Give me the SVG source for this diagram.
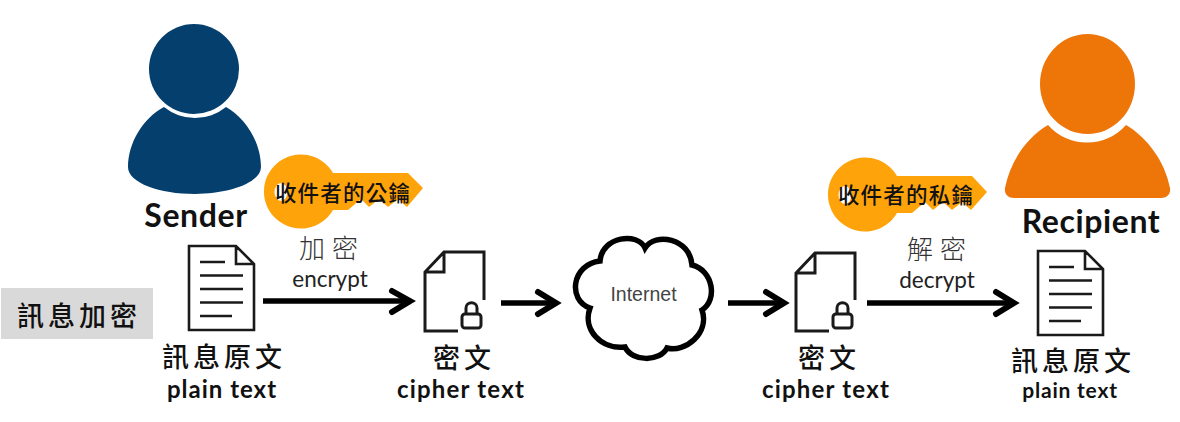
<svg xmlns="http://www.w3.org/2000/svg" width="1180" height="422" viewBox="0 0 1180 422">
<style>
text{font-family:"Lato","Noto Sans CJK TC",sans-serif;fill:#111;text-anchor:middle}
.zh{font-family:"Noto Sans CJK TC","Noto Sans CJK SC",sans-serif;font-size:27px;font-weight:500;letter-spacing:4px}
.zhl{font-family:"Noto Sans CJK TC",sans-serif;font-size:26px;font-weight:300;letter-spacing:7px;fill:#333}
.k{font-family:"Noto Sans CJK TC",sans-serif;font-size:21.5px;font-weight:500;letter-spacing:1.2px;fill:#111}
.en{font-size:22.500px;fill:#222}
.b{font-weight:700}
.doc{fill:none;stroke:#1a1a1a;stroke-width:2.6}
.ci{fill:none;stroke:#1a1a1a;stroke-width:3}
.ar{fill:none;stroke:#000;stroke-width:5.5}
.hd{fill:none;stroke:#000;stroke-width:6;stroke-linecap:round;stroke-linejoin:miter}
</style>
<rect width="1180" height="422" fill="#fff"/>
<g id="label-encrypt-message"><rect x="1" y="288" width="152" height="51" fill="#d9d9d9"/><text class="zh" x="79" y="326">訊息加密</text></g>
<g id="sender"><circle cx="194" cy="69" r="45" fill="#053f6d"/><path d="M164 107A49 49 0 0 0 226 107C246 118 261 143 261 167C261 183 228 194 195 194C160 194 128 183 128 167C128 143 143 118 164 107Z" fill="#053f6d"/><text class="b" x="196" y="227" font-size="32" letter-spacing=".6">Sender</text></g>
<g id="recipient"><ellipse cx="1087.500" cy="84" rx="47.500" ry="50" fill="#ee7609"/><path d="M1048 125A52 52 0 0 0 1126 125C1148 138 1165 162 1170 188C1171 194 1167 198 1161 198H1014C1008 198 1004 194 1005 188C1010 162 1026 138 1048 125Z" fill="#ee7609"/><text class="b" x="1091" y="233" font-size="32" letter-spacing=".6">Recipient</text></g>
<g id="public-key"><path d="M333 173H408L423 188L407 207L398 199L388 207L379 199L369 207L361 199L348 210H333A37 37 0 1 1 333 173Z" fill="#ffa30b"/><ellipse cx="281" cy="192" rx="6.500" ry="9" fill="#fff"/><text class="k" x="343" y="201">收件者的公鑰</text></g>
<g id="private-key"><path d="M897 176H972L987 192L971 210L962 202L952 210L943 202L933 210L925 202L912 213H897A37 37 0 1 1 897 176Z" fill="#ffa30b"/><ellipse cx="845" cy="195" rx="6.500" ry="9" fill="#fff"/><text class="k" x="906" y="203">收件者的私鑰</text></g>
<g id="plain-doc-left"><path class="doc" d="M189 246H236L254 264V330H189ZM236 246V264H254M200 262H225M200 275.500H243M200 289H243M200 302.500H243M200 316H232"/><text class="zh" x="224" y="367">訊息原文</text><text class="b" x="222" y="398" font-size="24" letter-spacing="1">plain text</text></g>
<g id="cipher-doc-left"><path class="ci" d="M484 300V252H444L425 272V331H458M444 252V272H425"/><rect x="462" y="314" width="19" height="14" rx="3" class="ci"/><path class="ci" d="M466 314V308C466 301 477 301 477 308V314"/><text class="zh" x="464" y="368">密文</text><text class="b" x="461" y="398" font-size="24" letter-spacing="1.200">cipher text</text></g>
<g id="internet"><path d="M600 261C602 236 638 232 645 248C655 232 690 238 692 265C713 270 718 300 702 310C710 333 685 353 667 348C660 362 632 362 625 347C602 350 582 330 590 308C567 300 572 264 600 261Z" fill="#fff" stroke="#000" stroke-width="5.500"/><text x="643.500" y="301" font-size="19.500" style="font-family:'Liberation Sans',sans-serif;fill:#444">Internet</text></g>
<g id="cipher-doc-right"><path class="ci" d="M855 300V253H815L796 273V331H829M815 253V273H796"/><rect x="833" y="314" width="19" height="14" rx="3" class="ci"/><path class="ci" d="M837 314V308C837 301 848 301 848 308V314"/><text class="zh" x="829" y="368">密文</text><text class="b" x="826" y="398" font-size="24" letter-spacing="1.200">cipher text</text></g>
<g id="plain-doc-right"><path class="doc" d="M1038 251H1085L1103 269V335H1038ZM1085 251V269H1103M1049 267H1074M1049 280.500H1092M1049 294H1092M1049 307.500H1092M1049 321H1081"/><text class="zh" x="1073" y="371">訊息原文</text><text class="b" x="1070" y="398" font-size="21" letter-spacing=".8">plain text</text></g>
<g id="connectors">
<path class="ar" d="M263 301H408"/><path class="hd" d="M392 291L410 301L392 312"/>
<path class="ar" d="M501 303H554"/><path class="hd" d="M538 292L556 303L538 314"/>
<path class="ar" d="M728 303H782"/><path class="hd" d="M766 292L784 303L766 314"/>
<path class="ar" d="M867 303H1012"/><path class="hd" d="M996 292L1014 303L996 314"/>
</g>
<g id="label-encrypt"><text class="zhl" x="332" y="258">加密</text><text class="en" x="330" y="287">encrypt</text></g>
<g id="label-decrypt"><text class="zhl" x="940" y="259">解密</text><text class="en" x="937" y="288">decrypt</text></g>
</svg>
